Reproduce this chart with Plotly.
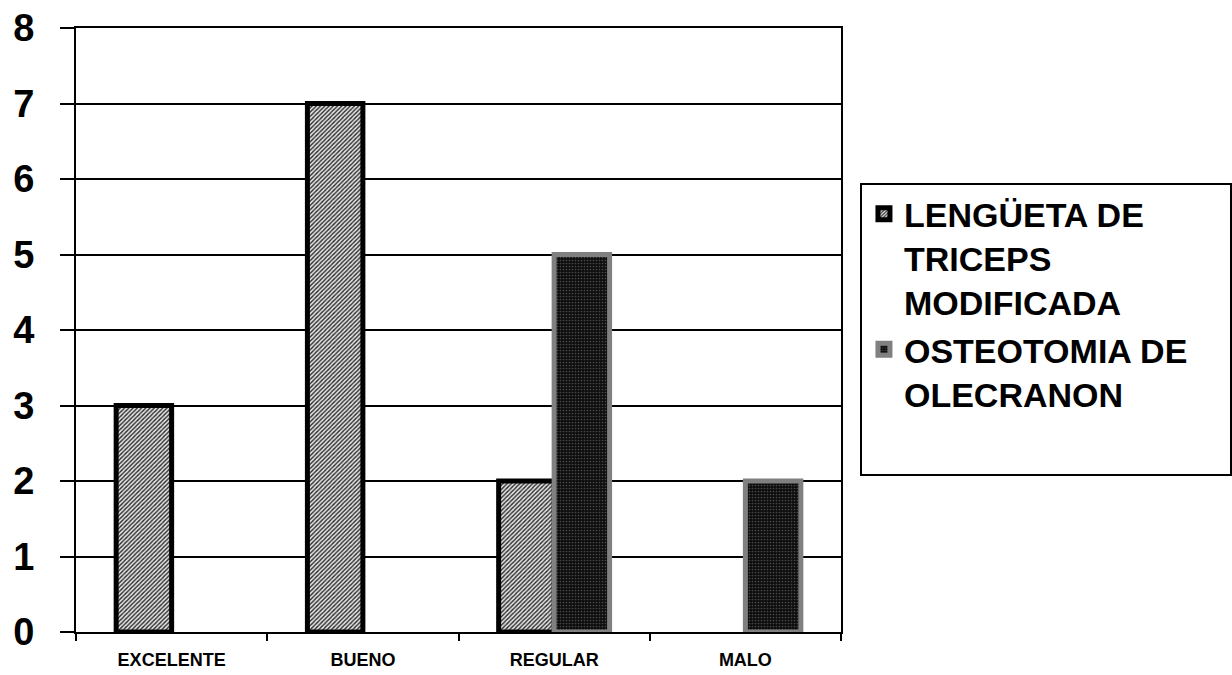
import plotly.graph_objects as go

categories = ["EXCELENTE", "BUENO", "REGULAR", "MALO"]
lengueta = [3, 7, 2, None]
osteotomia = [None, None, 5, 2]
series_names = ["LENGÜETA DE<br>TRICEPS<br>MODIFICADA", "OSTEOTOMIA DE<br>OLECRANON"]
y_ticks = [0, 1, 2, 3, 4, 5, 6, 7, 8]

FONT = "Arial, 'Liberation Sans', sans-serif"

fig = go.Figure()
fig.add_trace(go.Bar(
    x=categories, y=lengueta, name=series_names[0],
    marker=dict(
        color="#d9d9d9",
        line=dict(color="black", width=5),
        pattern=dict(shape="/", fgcolor="#2a2a2a", bgcolor="#e6e6e6",
                     size=3, solidity=0.45, fillmode="replace"),
    ),
))
fig.add_trace(go.Bar(
    x=categories, y=osteotomia, name=series_names[1],
    marker=dict(
        color="#111111",
        line=dict(color="#808080", width=5),
        pattern=dict(shape=".", fgcolor="#4a4a4a", bgcolor="#0d0d0d",
                     size=3, solidity=0.25, fillmode="replace"),
    ),
))

fig.update_layout(
    width=1232, height=675,
    margin=dict(l=76, r=391, t=28, b=43),
    paper_bgcolor="white", plot_bgcolor="white",
    barmode="group", bargap=0.42, bargroupgap=0,
    font=dict(family=FONT, color="black"),
    showlegend=True,
    legend=dict(
        x=1.03, y=0.74, xanchor="left", yanchor="top",
        bgcolor="rgba(0,0,0,0)", borderwidth=0,
        font=dict(family=FONT, size=34, color="black", weight="bold"),
        tracegroupgap=8, itemwidth=30, valign="top",
    ),
    shapes=[dict(
        type="rect", xref="paper", yref="paper",
        x0=(861 - 76) / 765, x1=(1231 - 76) / 765,
        y0=(632 - 475) / 604, y1=(632 - 184) / 604,
        line=dict(color="black", width=2), fillcolor="rgba(0,0,0,0)",
    )],
)

fig.update_xaxes(
    type="category", showline=True, linecolor="black", linewidth=2, mirror=True,
    ticks="outside", tickson="boundaries", ticklen=7, tickwidth=1.5, tickcolor="black",
    showgrid=False, automargin=False,
    tickfont=dict(family=FONT, size=18, color="black", weight="bold"),
    ticklabelstandoff=10,
)
fig.update_yaxes(
    range=[0, 8], tickvals=y_ticks, showline=True, linecolor="black", linewidth=2,
    mirror=True, ticks="outside", ticklen=14, tickwidth=1.5, tickcolor="black",
    showgrid=True, gridcolor="black", gridwidth=1.5, zeroline=False, automargin=False,
    tickfont=dict(family=FONT, size=38, color="black", weight="bold"),
    ticklabelstandoff=18,
)

fig.write_html("out.html")
